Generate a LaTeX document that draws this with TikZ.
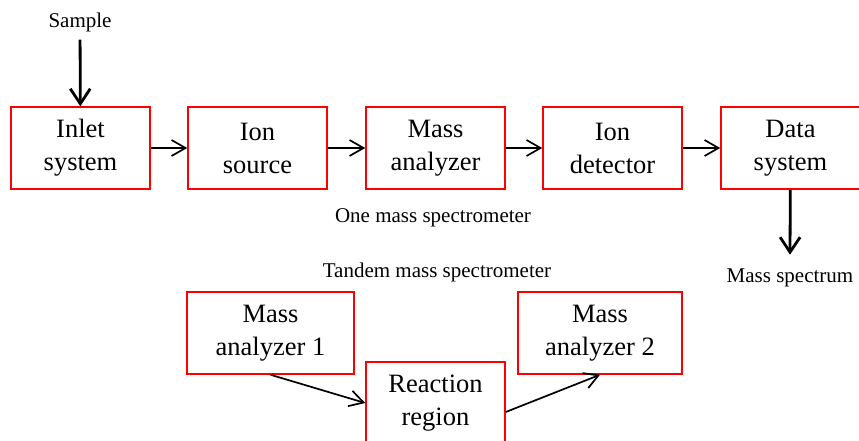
\documentclass[tikz,border=0pt]{standalone}
\usepackage{fontspec}
\setmainfont{Liberation Serif}
\usetikzlibrary{arrows.meta}
\begin{document}
\begin{tikzpicture}[x=1pt,y=-1pt,
	box/.style={draw=red,line width=1.5pt,minimum width=139pt,minimum height=82pt,inner sep=0pt,align=center,font=\fontsize{26.5}{33}\selectfont},
	lbl/.style={inner sep=2pt,font=\fontsize{21}{25}\selectfont},
	flow/.style={line width=1.7pt,-{Straight Barb[length=14pt,width=16pt,line width=1.7pt]}},
	io/.style={line width=2.8pt,-{Straight Barb[length=15pt,width=20pt,line width=2.8pt]}}]
				\useasboundingbox (0,0) rectangle (859,440);
				% one mass spectrometer
				\node[box] (inlet) at (80.5,148){Inlet\\system};
				\node[box] (src) at (257.5,148){Ion\\source};
				\node[box] (ana) at (435.5,148){Mass\\analyzer};
				\node[box] (det) at (612.5,148){Ion\\detector};
				\node[box] (data) at (790.5,148){Data\\system};
				\node[lbl] (smp) at (80,22){Sample};
				\node[lbl] (spec) at (790,278){Mass spectrum};
				\node[lbl] (one) at (433,218){One mass spectrometer};
				\draw[io,shorten <=6pt] (smp)--(inlet);
				\draw[io] (data)--([yshift=12pt]spec.north);
				\draw[flow] (inlet)--(src);
				\draw[flow] (src)--(ana);
				\draw[flow] (ana)--(det);
				\draw[flow] (det)--(data);
				% tandem mass spectrometer
				\node[lbl] (tdm) at (437,272){Tandem mass spectrometer};
				\node[box,minimum width=167pt] (ma1) at (270.5,333){Mass\\analyzer 1};
				\node[box] (rr) at (435.5,403){Reaction\\region};
				\node[box,minimum width=164pt] (ma2) at (600,333){Mass\\analyzer 2};
				\draw[flow] (ma1.south)--(rr.west);
				\draw[flow] ([yshift=-9pt]rr.east)--(ma2.south);
				\end{tikzpicture}
\end{document}
